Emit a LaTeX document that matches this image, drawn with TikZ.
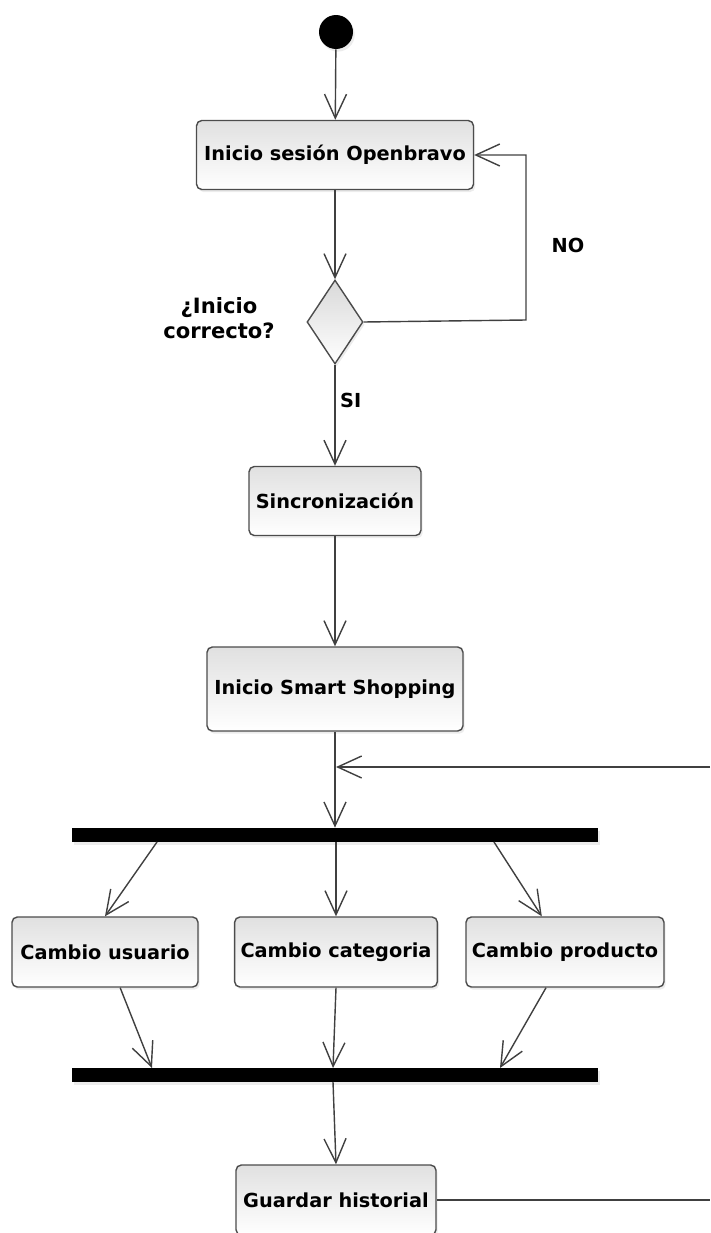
\documentclass[tikz,border=0pt]{standalone}
\usepackage{fontspec}
\setmainfont{DejaVu Sans}
\usetikzlibrary{arrows.meta,shapes.geometric,shadows}

\tikzset{
  act/.style={rectangle,rounded corners=3pt,draw=black!70,line width=0.8pt,
              top color=black!12,bottom color=white,
              font=\bfseries\fontsize{11}{13}\selectfont,
              drop shadow={opacity=0.15,shadow xshift=1pt,shadow yshift=-1.5pt}},
  bar/.style={rectangle,fill=black,minimum width=10.52cm,minimum height=0.28cm,
              inner sep=0pt,drop shadow={opacity=0.15,shadow xshift=1pt,shadow yshift=-1.5pt}},
  lbl/.style={font=\bfseries\fontsize{11}{13}\selectfont,align=center}
}

\begin{document}
\begin{tikzpicture}[x=0.02cm,y=-0.02cm]
\useasboundingbox (0,0) rectangle (710,1233);
\node[circle,fill=black,minimum size=0.68cm,inner sep=0pt,
      drop shadow={opacity=0.15,shadow xshift=1pt,shadow yshift=-1.5pt}] (S0) at (336,32) {};
\begin{scope}[every node/.style={act,minimum height=1.38cm}]
    \node[minimum width=5.54cm] (A1) at (335,155) {Inicio sesión Openbravo};
    \node[minimum width=3.44cm] (A2) at (335,501) {Sincronización};
    \node[minimum width=5.12cm,minimum height=1.68cm] (A3) at (335,689) {Inicio Smart Shopping};
\end{scope}
\node[diamond,draw=black!70,line width=0.8pt,top color=black!15,bottom color=white,
      minimum width=1.12cm,minimum height=1.68cm,inner sep=0pt,
      drop shadow={opacity=0.15,shadow xshift=1pt,shadow yshift=-1.5pt}] (D1) at (335,322) {};
\begin{scope}[every node/.style={act,minimum height=1.4cm}]
    \node[minimum width=3.72cm] (B1) at (105,952) {Cambio usuario};
    \node[minimum width=4.04cm] (B2) at (336,952) {Cambio categoria};
    \node[minimum width=3.96cm] (B3) at (565,952) {Cambio producto};
    \node[minimum width=4.0cm] (C1) at (336,1200) {Guardar historial};
\end{scope}
\node[bar] (F1) at (335,835) {};
\node[bar] (J1) at (335,1075) {};
% labels
\node[lbl,font=\bfseries\fontsize{12}{14}\selectfont] (L1) at (219,318) {¿Inicio\\correcto?};
\node[lbl] (L2) at (568,245) {NO};
\node[lbl,anchor=west] (L3) at (334,400) {SI};
% points on the bars and at the border
\coordinate (N1) at (526,320);
\coordinate (M1) at (336,767);
\coordinate (R1) at (710,767);
\coordinate (R2) at (710,1200);
\coordinate (F1a) at (157,842);
\coordinate (F1b) at (336,842);
\coordinate (F1c) at (494,842);
\coordinate (J1a) at (152,1068);
\coordinate (J1b) at (333,1068);
\coordinate (J1c) at (500,1068);
\coordinate (J1d) at (333,1082);
\begin{scope}[>={Straight Barb[length=0.48cm,width=0.44cm]},
              every edge/.style={draw=black!75,line width=0.8pt}]
    \path [->] (S0) edge (A1);
    \path [->] (A1) edge (D1);
    \path [->] (D1) edge (A2);
    \path [->] (A2) edge (A3);
    \path [->] (A3) edge (F1);
    \path [->] (R1) edge (M1);
    \path [->] (F1a) edge (B1.north);
    \path [->] (F1b) edge (B2.north);
    \path [->] (F1c) edge (B3.123);
    \path [->] (B1.-67) edge (J1a);
    \path [->] (B2.south) edge (J1b);
    \path [->] (B3.-118) edge (J1c);
    \path [->] (J1d) edge (C1.north);
    \path [-] (C1) edge (R2);
    \draw [->,draw=black!75,line width=0.8pt] (D1.east) -- (N1) |- (A1.east);
\end{scope}
\end{tikzpicture}
\end{document}
